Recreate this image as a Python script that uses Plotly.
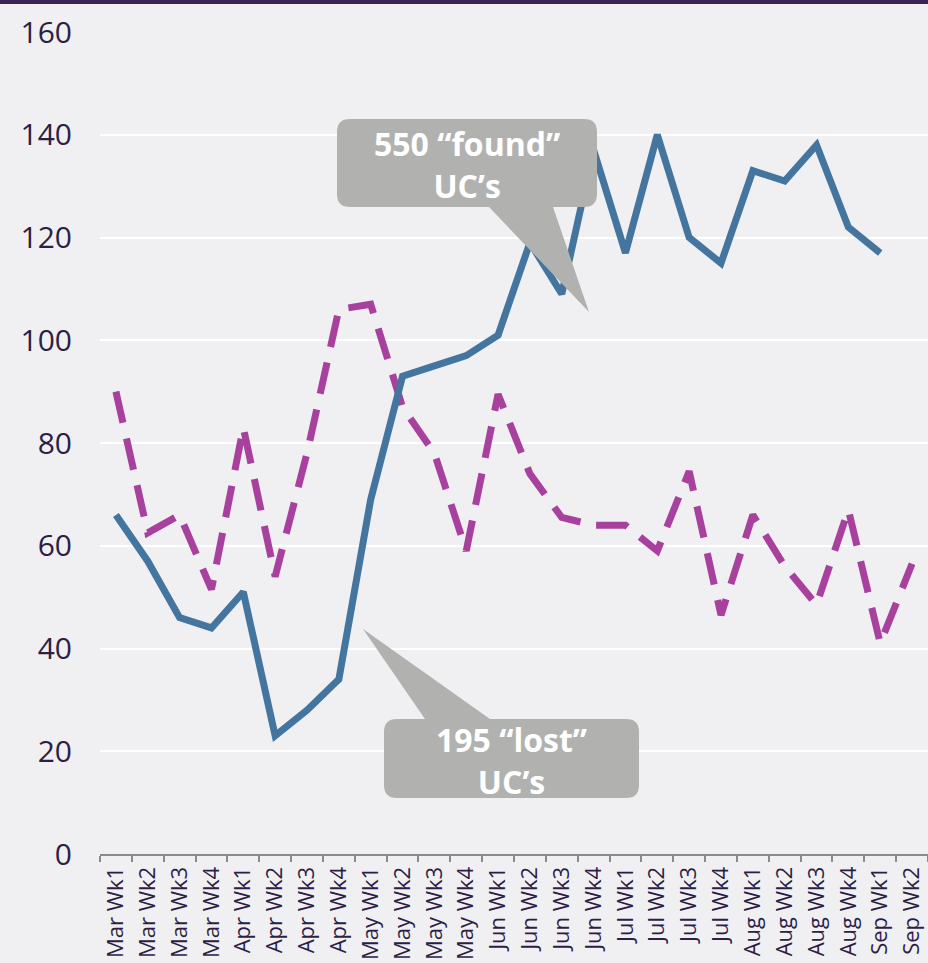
import plotly.graph_objects as go

weeks = ["Mar Wk1", "Mar Wk2", "Mar Wk3", "Mar Wk4",
         "Apr Wk1", "Apr Wk2", "Apr Wk3", "Apr Wk4",
         "May Wk1", "May Wk2", "May Wk3", "May Wk4",
         "Jun Wk1", "Jun Wk2", "Jun Wk3", "Jun Wk4",
         "Jul Wk1", "Jul Wk2", "Jul Wk3", "Jul Wk4",
         "Aug Wk1", "Aug Wk2", "Aug Wk3", "Aug Wk4",
         "Sep Wk1", "Sep Wk2"]

found_series = [66, 57, 46, 44, 51, 23, 28, 34, 69, 93, 95, 97, 101, 119, 109, 137,
                117, 140, 120, 115, 133, 131, 138, 122, 117, None]

lost_series = [90, 62.5, 66, 51.5, 83, 54, 78, 106, 107, 87, 78, 59, 89.5, 74, 65.5, 64,
               64, 59, 74.5, 46.5, 66, 56, 48.5, 67, 41, 56.5]

y_ticks = [0, 20, 40, 60, 80, 100, 120, 140, 160]

callout_found = "550 “found”<br>UC’s"
callout_lost = "195 “lost”<br>UC’s"

BLUE = "#44759f"
PURPLE = "#a8419e"
TEXT = "#2d1e45"
CALLOUT = "#b1b2b0"

W, H = 928, 963
ML, MR, MT, MB = 100, 0, 32, 109
PW, PH = W - ML - MR, H - MT - MB


def px(x):
    return (x - ML) / PW


def py(y):
    return (H - MB - y) / PH


def callout_path(x0, y0, x1, y1, r, base_a, base_b, tip, side):
    def P(x, y):
        return f"{px(x):.5f},{py(y):.5f}"
    s = f"M {P(x0 + r, y0)} "
    if side == "top":
        s += f"L {P(base_a, y0)} L {P(tip[0], tip[1])} L {P(base_b, y0)} "
    s += f"L {P(x1 - r, y0)} Q {P(x1, y0)} {P(x1, y0 + r)} "
    s += f"L {P(x1, y1 - r)} Q {P(x1, y1)} {P(x1 - r, y1)} "
    if side == "bottom":
        s += f"L {P(base_b, y1)} L {P(tip[0], tip[1])} L {P(base_a, y1)} "
    s += f"L {P(x0 + r, y1)} Q {P(x0, y1)} {P(x0, y1 - r)} "
    s += f"L {P(x0, y0 + r)} Q {P(x0, y0)} {P(x0 + r, y0)} Z"
    return s


fig = go.Figure()

fig.add_trace(go.Scatter(
    x=weeks, y=lost_series, mode="lines",
    line=dict(color=PURPLE, width=7, dash="32px,16px"),
    showlegend=False, hoverinfo="skip"))

fig.add_trace(go.Scatter(
    x=weeks, y=found_series, mode="lines",
    line=dict(color=BLUE, width=7),
    showlegend=False, hoverinfo="skip"))

shapes = [
    dict(type="rect", xref="paper", yref="paper",
         x0=px(0), x1=px(W), y0=py(0), y1=py(4),
         fillcolor="#3a2452", line=dict(width=0), layer="above"),
    dict(type="path", xref="paper", yref="paper",
         path=callout_path(337, 119, 597, 207, 13, 489, 553, (589, 312), "bottom"),
         fillcolor=CALLOUT, line=dict(width=0), layer="above"),
    dict(type="path", xref="paper", yref="paper",
         path=callout_path(384, 719, 639, 798, 13, 425, 490, (363, 629), "top"),
         fillcolor=CALLOUT, line=dict(width=0), layer="above"),
]

annotations = [
    dict(xref="paper", yref="paper", x=px(467), y=py(165), text=callout_found,
         showarrow=False, xanchor="center", yanchor="middle",
         font=dict(family="Open Sans", size=32, color="white", weight="bold")),
    dict(xref="paper", yref="paper", x=px(511), y=py(760), text=callout_lost,
         showarrow=False, xanchor="center", yanchor="middle",
         font=dict(family="Open Sans", size=32, color="white", weight="bold")),
]

fig.update_layout(
    width=W, height=H,
    margin=dict(l=ML, r=MR, t=MT, b=MB, pad=0),
    paper_bgcolor="#f0eff2",
    plot_bgcolor="#f0eff2",
    shapes=shapes,
    annotations=annotations,
    showlegend=False,
    font=dict(family="Open Sans", color=TEXT),
)

fig.update_xaxes(
    type="category", range=[-0.5, 25.5], tickson="boundaries",
    showgrid=False, showline=True, linecolor="#8a8a8e", linewidth=2,
    ticks="outside", ticklen=6, tickcolor="#8a8a8e", tickwidth=2,
    tickangle=-90, tickfont=dict(size=22, color=TEXT),
    ticklabelstandoff=2, zeroline=False,
)

fig.update_yaxes(
    range=[0, 160], tickvals=y_ticks, showgrid=True, gridcolor="white", gridwidth=2,
    showline=False, zeroline=False, ticks="",
    tickfont=dict(size=30, color=TEXT), ticklabelstandoff=27,
)

fig.write_html(
    "out.html",
    config={"displayModeBar": False},
    post_script="document.body.style.margin='0';document.body.style.overflow='hidden';",
)
